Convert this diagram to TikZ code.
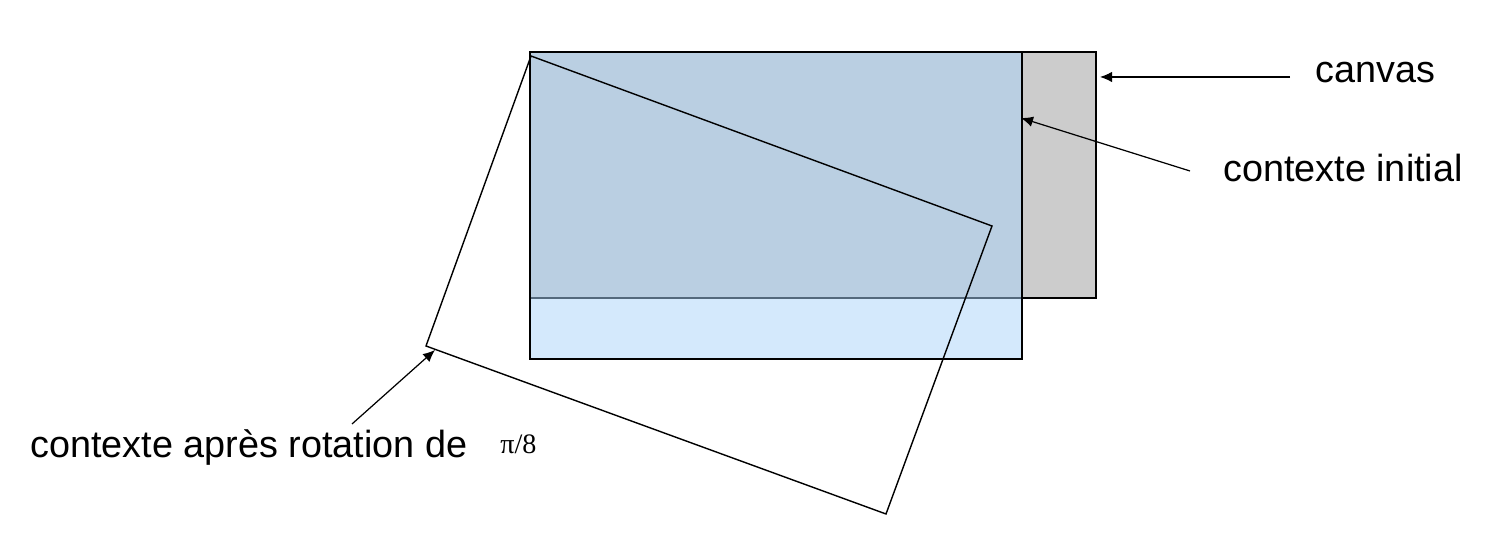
\documentclass[tikz,border=0pt]{standalone}
\usepackage{fontspec}
\setmainfont{Liberation Sans}
\newfontfamily\timesfont{Liberation Serif}
\usepackage{xcolor}
\usetikzlibrary{arrows.meta}
\definecolor{canvasgray}{HTML}{CCCCCC}
\definecolor{ctxblue}{HTML}{A9D3F9}
\definecolor{ink}{HTML}{000000}
\tikzset{
  box/.style={draw=ink, line width=0.8pt, line join=miter},
  canvasbox/.style={box, fill=canvasgray},
  ctxbox/.style={box, fill=ctxblue, fill opacity=0.5, draw opacity=1},
  rotbox/.style={draw=ink, line width=0.8pt, line join=miter},
  ptr/.style={draw=ink, line width=0.7pt, -{Latex[length=2.4mm,width=2.1mm]}},
  lab/.style={text=ink, font=\fontsize{21.5}{24}\selectfont, inner sep=0pt, anchor=base west},
  labmath/.style={text=ink, font=\timesfont\fontsize{16}{19}\selectfont, inner sep=0pt, anchor=base west},
}
\begin{document}
\begin{tikzpicture}[x=0.02cm, y=-0.02cm]
  \useasboundingbox (0,0) rectangle (1492,546);

  \coordinate (CnvNW) at (530,52);
  \coordinate (CnvSE) at (1096,298);
  \coordinate (CtxNW) at (530,52);
  \coordinate (CtxSE) at (1022,359);

  \coordinate (RotA) at (531,56);
  \coordinate (RotB) at (992,226);
  \coordinate (RotC) at (886,514);
  \coordinate (RotD) at (426,346);

  \draw[canvasbox] (CnvNW) rectangle (CnvSE);
  \draw[ctxbox] (CtxNW) rectangle (CtxSE);
  \draw[rotbox] (RotA) -- (RotB) -- (RotC) -- (RotD) -- cycle;

  \node[lab] (canvaslab) at (1315,83) {canvas};
  \node[lab] (initlab) at (1223,182) {contexte initial};
  \node[lab] (rotlab) at (30,458) {contexte après rotation de};
  \node[labmath] (anglab) at (500,454) {π/8};

  \coordinate (canvastail) at (1290,77);
  \coordinate (canvastip) at (1100,77);
  \coordinate (inittail) at (1190,171);
  \coordinate (inittip) at (1021,118);
  \coordinate (rottail) at (352,424);
  \coordinate (rottip) at (435,350);

  \draw[ptr] (canvastail) -- (canvastip);
  \draw[ptr] (inittail) -- (inittip);
  \draw[ptr] (rottail) -- (rottip);
\end{tikzpicture}
\end{document}
